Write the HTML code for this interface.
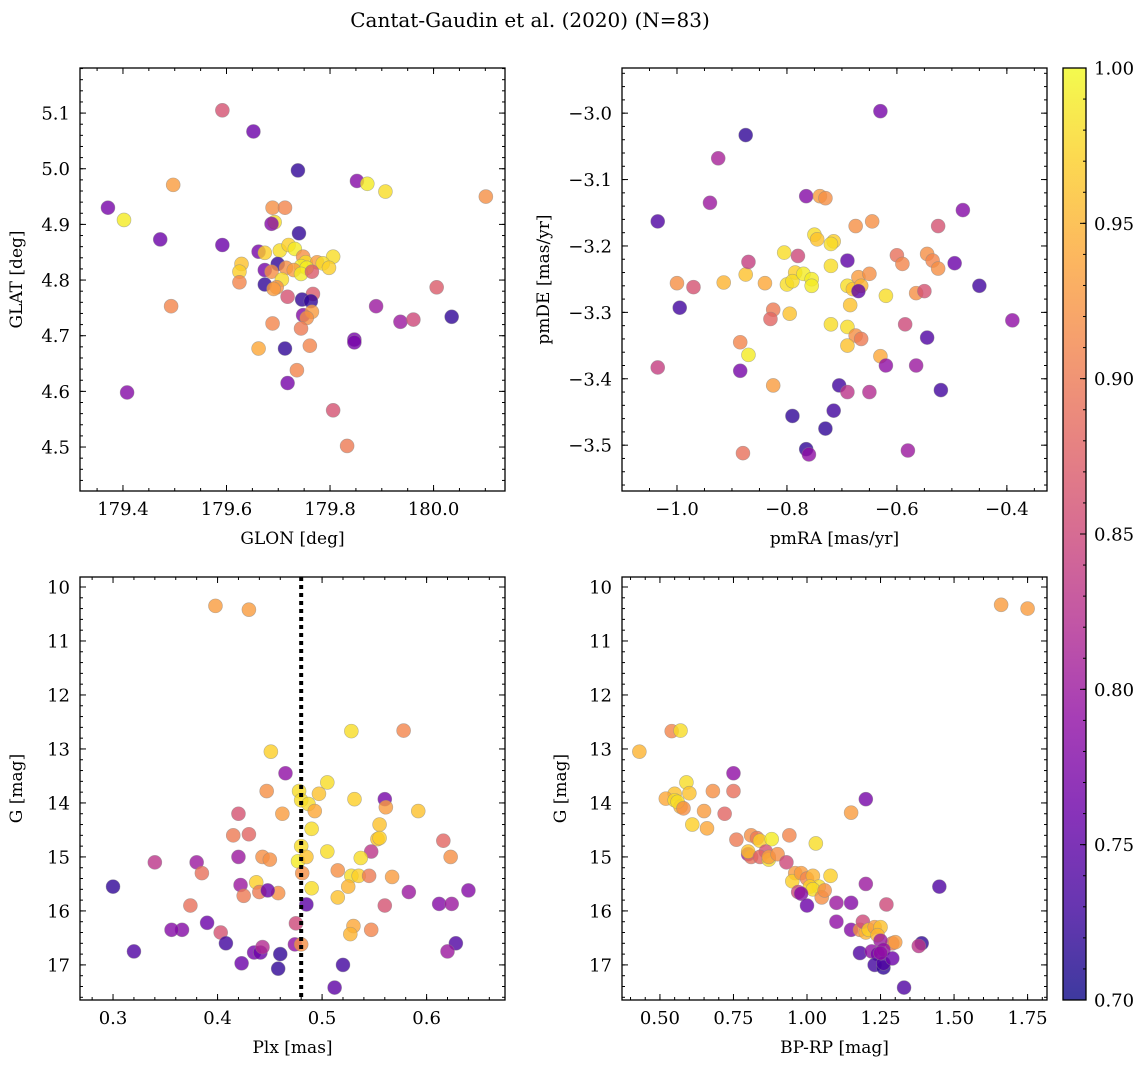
<!DOCTYPE html>
<html><head><meta charset="utf-8">
<style>
html,body{margin:0;padding:0;background:#fff;}
svg{display:block;font-family:"DejaVu Serif","Liberation Serif",serif;}
</style></head>
<body>
<svg id="fig" width="1148" height="1067" viewBox="0 0 1148 1067" xmlns="http://www.w3.org/2000/svg">
<defs>
<linearGradient id="plasma" x1="0" y1="1" x2="0" y2="0">
<stop offset="0" stop-color="#0d0887"/><stop offset="0.1" stop-color="#41049d"/><stop offset="0.2" stop-color="#6a00a8"/><stop offset="0.3" stop-color="#8f0da4"/><stop offset="0.4" stop-color="#b12a90"/><stop offset="0.5" stop-color="#cc4778"/><stop offset="0.6" stop-color="#e16462"/><stop offset="0.7" stop-color="#f2844b"/><stop offset="0.8" stop-color="#fca636"/><stop offset="0.9" stop-color="#fcce25"/><stop offset="1" stop-color="#f0f921"/>
</linearGradient>
</defs>
<text x="530" y="27" font-size="20" text-anchor="middle">Cantat-Gaudin et al. (2020) (N=83)</text>
</svg>
<script>
// Panel 1: GLON vs GLAT
const p1Glon=[179.592,179.652,179.738,179.852,179.872,179.907,179.497,180.101,179.371,179.402,179.472,179.592,179.689,179.713,179.693,179.687,179.740,179.662,179.674,179.703,179.720,179.732,179.748,179.753,179.775,179.806,179.786,179.744,179.755,179.629,179.625,179.674,179.699,179.715,179.730,179.687,179.707,179.744,179.765,179.798,179.674,179.697,179.625,179.691,179.718,179.767,179.746,179.763,179.889,179.748,179.765,179.755,179.744,179.493,180.006,179.936,179.961,180.035,179.689,179.662,179.713,179.761,179.847,179.847,179.736,179.718,179.806,179.408,179.833];
const p1Glat=[5.105,5.067,4.997,4.978,4.973,4.959,4.971,4.950,4.930,4.908,4.873,4.863,4.930,4.930,4.904,4.901,4.884,4.851,4.849,4.853,4.863,4.856,4.842,4.832,4.832,4.842,4.830,4.825,4.822,4.829,4.815,4.818,4.829,4.822,4.818,4.815,4.801,4.811,4.815,4.822,4.792,4.787,4.796,4.784,4.770,4.775,4.765,4.762,4.753,4.737,4.743,4.732,4.713,4.753,4.787,4.725,4.729,4.734,4.722,4.677,4.677,4.682,4.693,4.688,4.638,4.615,4.566,4.598,4.502];
const p1Prob=[.86,.76,.72,.78,.99,.98,.93,.92,.77,.99,.76,.76,.92,.91,.98,.78,.72,.77,.97,.98,.97,.99,.92,.98,.93,.98,.98,.99,.99,.96,.97,.77,.72,.92,.93,.92,.98,.99,.87,.97,.72,.92,.91,.93,.86,.87,.72,.72,.80,.78,.93,.92,.90,.91,.87,.80,.85,.72,.91,.94,.72,.91,.77,.77,.91,.77,.86,.78,.90];

// Panel 2: pmRA vs pmDE
const p2Pmra=[-0.63,-0.875,-0.925,-0.94,-1.035,-0.765,-0.74,-0.73,-0.75,-0.745,-0.715,-0.72,-0.675,-0.645,-0.525,-0.48,-0.805,-0.78,-0.69,-0.6,-0.59,-0.545,-0.535,-0.525,-0.495,-1.0,-0.97,-0.915,-0.875,-0.84,-0.8,-0.785,-0.79,-0.77,-0.755,-0.755,-0.72,-0.69,-0.68,-0.67,-0.665,-0.65,-0.67,-0.62,-0.565,-0.55,-0.45,-0.995,-0.87,-0.825,-0.83,-0.795,-0.685,-0.72,-0.585,-0.545,-0.39,-0.69,-0.675,-0.665,-0.69,-0.63,-0.885,-0.87,-1.035,-0.885,-0.825,-0.705,-0.69,-0.65,-0.62,-0.565,-0.52,-0.79,-0.715,-0.73,-0.765,-0.76,-0.88,-0.58];
const p2Pmde=[-2.997,-3.033,-3.068,-3.135,-3.163,-3.125,-3.125,-3.128,-3.183,-3.19,-3.193,-3.197,-3.17,-3.163,-3.17,-3.146,-3.21,-3.215,-3.222,-3.214,-3.227,-3.212,-3.222,-3.234,-3.226,-3.256,-3.262,-3.255,-3.243,-3.256,-3.258,-3.24,-3.253,-3.242,-3.25,-3.26,-3.23,-3.26,-3.265,-3.247,-3.26,-3.242,-3.268,-3.275,-3.271,-3.268,-3.26,-3.293,-3.224,-3.296,-3.31,-3.302,-3.289,-3.318,-3.318,-3.338,-3.312,-3.322,-3.335,-3.34,-3.35,-3.366,-3.345,-3.364,-3.383,-3.388,-3.41,-3.41,-3.42,-3.42,-3.38,-3.38,-3.417,-3.456,-3.448,-3.475,-3.506,-3.514,-3.512,-3.508];
const p2Prob=[.77,.72,.81,.80,.74,.78,.93,.92,.98,.96,.97,.98,.92,.92,.86,.78,.98,.85,.75,.89,.91,.92,.91,.92,.76,.92,.86,.95,.96,.94,.98,.97,.98,.99,.99,.99,.98,.98,.96,.93,.95,.92,.75,.98,.92,.86,.73,.73,.84,.90,.88,.96,.96,.98,.85,.74,.79,.98,.92,.90,.96,.94,.91,.99,.84,.77,.93,.73,.83,.82,.79,.80,.73,.72,.73,.72,.72,.79,.89,.80];

// Panel 3: Plx vs G
const p3Plx=[0.398,0.43,0.451,0.528,0.578,0.465,0.478,0.505,0.497,0.48,0.531,0.487,0.56,0.447,0.462,0.42,0.415,0.43,0.493,0.49,0.561,0.592,0.555,0.553,0.555,0.48,0.505,0.42,0.443,0.45,0.477,0.485,0.547,0.537,0.616,0.623,0.3,0.34,0.38,0.385,0.422,0.425,0.437,0.44,0.458,0.448,0.49,0.481,0.515,0.528,0.535,0.525,0.515,0.545,0.567,0.583,0.64,0.374,0.366,0.356,0.39,0.403,0.485,0.56,0.53,0.527,0.547,0.612,0.624,0.32,0.408,0.423,0.435,0.441,0.443,0.46,0.474,0.48,0.475,0.458,0.52,0.512,0.628,0.62];
const p3G=[10.35,10.42,13.05,12.67,12.66,13.45,13.78,13.62,13.83,13.95,13.93,14.02,13.93,13.78,14.2,14.2,14.6,14.58,14.15,14.48,14.08,14.15,14.4,14.67,14.65,14.8,14.9,15.0,15.0,15.05,15.08,15.0,14.9,15.02,14.7,15.0,15.55,15.1,15.1,15.3,15.52,15.72,15.47,15.65,15.67,15.62,15.58,15.3,15.25,15.35,15.35,15.55,15.75,15.35,15.37,15.65,15.62,15.9,16.35,16.35,16.22,16.4,15.88,15.9,16.28,16.43,16.35,15.87,15.87,16.75,16.6,16.97,16.77,16.77,16.67,16.8,16.62,16.62,16.23,17.07,17.0,17.42,16.6,16.75];
const p3Prob=[.93,.93,.97,.98,.91,.79,.98,.98,.96,.98,.97,.98,.77,.92,.93,.86,.90,.88,.94,.98,.93,.96,.96,.96,.97,.98,.98,.80,.92,.92,.99,.96,.83,.98,.88,.92,.72,.83,.80,.89,.80,.90,.97,.90,.92,.76,.98,.92,.92,.98,.97,.95,.96,.90,.93,.80,.78,.89,.78,.78,.76,.86,.75,.86,.94,.95,.91,.78,.80,.74,.73,.76,.77,.76,.82,.72,.79,.92,.85,.72,.73,.75,.74,.80];
const plxLine=0.48;

// Panel 4: BP-RP vs G
const p4Bprp=[1.66,1.75,0.43,0.54,0.57,0.75,0.59,0.55,0.52,0.55,0.57,0.56,0.6,0.58,0.61,0.65,0.66,0.68,0.72,0.75,1.2,1.15,0.76,0.81,0.83,0.84,0.88,0.86,0.8,0.81,0.8,0.84,0.87,0.87,0.9,0.94,1.03,0.93,0.96,0.95,0.98,1.0,1.02,1.04,1.01,1.02,1.08,0.97,0.98,1.0,1.05,1.1,1.06,1.15,1.2,1.27,1.45,1.1,1.15,1.18,1.2,1.19,1.21,1.23,1.25,1.24,1.29,1.3,1.25,1.18,1.22,1.24,1.26,1.23,1.26,1.26,1.29,1.33,1.39,1.38,1.25];
const p4G=[10.33,10.4,13.05,12.67,12.66,13.45,13.62,13.83,13.92,13.95,14.07,13.98,13.82,14.1,14.4,14.15,14.47,13.78,14.2,13.78,13.93,14.18,14.68,14.6,14.65,14.7,14.67,14.9,14.95,15.0,14.9,15.0,15.05,15.0,14.95,14.6,14.75,15.1,15.3,15.45,15.3,15.4,15.35,15.55,15.55,15.6,15.35,15.65,15.68,15.9,15.75,15.85,15.62,15.85,15.5,15.88,15.55,16.2,16.35,16.35,16.4,16.2,16.35,16.3,16.3,16.45,16.6,16.58,16.55,16.78,16.75,16.8,16.72,17.0,17.05,16.97,16.88,17.42,16.6,16.65,16.78];
const p4Prob=[.93,.93,.95,.91,.98,.79,.98,.96,.94,.98,.95,.98,.96,.92,.97,.93,.94,.92,.88,.89,.77,.93,.90,.92,.90,.97,.99,.86,.80,.89,.96,.88,.98,.93,.92,.91,.98,.85,.93,.97,.93,.91,.95,.98,.97,.98,.97,.85,.78,.76,.92,.80,.92,.78,.80,.85,.74,.79,.78,.92,.95,.85,.97,.93,.96,.95,.90,.93,.80,.74,.79,.77,.79,.73,.72,.74,.76,.74,.72,.83,.79];

const cbarTicks=[0.70,0.75,0.80,0.85,0.90,0.95,1.00];

const NS='http://www.w3.org/2000/svg';
const svg=document.getElementById('fig');
function el(tag,attrs,parent){const e=document.createElementNS(NS,tag);for(const k in attrs)e.setAttribute(k,attrs[k]);(parent||svg).appendChild(e);return e;}
const stops=[[13,8,135],[65,4,157],[106,0,168],[143,13,164],[177,42,144],[204,71,120],[225,100,98],[242,132,75],[252,166,54],[252,206,37],[240,249,33]];
function plasma(v){const t=Math.max(0,Math.min(1,(v-0.7)/0.3))*10;const i=Math.min(9,Math.floor(t));const f=t-i;const a=stops[i],b=stops[i+1];return 'rgb('+[0,1,2].map(k=>Math.round(a[k]+(b[k]-a[k])*f)).join(',')+')';}

function panel(name,box,xlim,ylim,invY,xMaj,xMin,yMaj,yMin,xdec,ydec,xlabel,ylabel,ylabX){
  const [L,T,R,B]=box;
  const sx=v=>L+(v-xlim[0])/(xlim[1]-xlim[0])*(R-L);
  const sy=invY?(v=>T+(v-ylim[0])/(ylim[1]-ylim[0])*(B-T)):(v=>B-(v-ylim[0])/(ylim[1]-ylim[0])*(B-T));
  const g=el('g',{});
  
  
  const ticks=(step,len,isX,labels,dec)=>{
    const lo=isX?Math.min(...xlim):Math.min(...ylim),hi=isX?Math.max(...xlim):Math.max(...ylim);
    let v=Math.ceil(lo/step-1e-6)*step;
    for(;v<=hi+1e-9;v+=step){
      const vv=Math.round(v/step)*step;
      if(isX){const x=sx(vv);
        el('line',{x1:x,y1:B,x2:x,y2:B-len,stroke:'#000','stroke-width':1},g);
        el('line',{x1:x,y1:T,x2:x,y2:T+len,stroke:'#000','stroke-width':1},g);
        if(labels){const t=el('text',{x:x,y:B+24,'font-size':18,'text-anchor':'middle'},g);t.textContent=vv.toFixed(dec).replace('-','\u2212');
          }
      }else{const y=sy(vv);
        el('line',{x1:L,y1:y,x2:L+len,y2:y,stroke:'#000','stroke-width':1},g);
        el('line',{x1:R,y1:y,x2:R-len,y2:y,stroke:'#000','stroke-width':1},g);
        if(labels){const t=el('text',{x:L-10,y:y+6.5,'font-size':18,'text-anchor':'end'},g);t.textContent=vv.toFixed(dec).replace('-','\u2212');
          }
      }
    }
  };
  ticks(xMin,3,true,false);ticks(xMaj,6,true,true,xdec);
  ticks(yMin,3,false,false);ticks(yMaj,6,false,true,ydec);
  const fr=el('rect',{x:L,y:T,width:R-L,height:B-T,fill:'none',stroke:'#000','stroke-width':1.3},g);
  
  const xl=el('text',{x:(L+R)/2,y:B+53,'font-size':17,'text-anchor':'middle'},g);xl.textContent=xlabel;
  
  const cy=(T+B)/2;
  const yl=el('text',{x:ylabX,y:cy,'font-size':17,'text-anchor':'middle',transform:'rotate(-90 '+ylabX+' '+cy+')'},g);yl.textContent=ylabel;
  
  return {sx,sy,g};
}
function scatter(ax,xs,ys,ps,name){
  for(let i=0;i<xs.length;i++){
    const c=el('circle',{cx:ax.sx(xs[i]),cy:ax.sy(ys[i]),r:7,fill:plasma(ps[i]),'fill-opacity':0.8,stroke:'#888','stroke-opacity':0.6,'stroke-width':0.6},ax.g);
    
    
  }
}

const a1=panel('glon-glat',[80,68,505,491],[179.317,180.138],[4.421,5.181],false,0.2,0.05,0.1,0.02,1,1,'GLON [deg]','GLAT [deg]',22);
scatter(a1,p1Glon,p1Glat,p1Prob,'glon-glat');
const a2=panel('pm',[622,68,1047,491],[-1.1,-0.327],[-3.569,-2.932],false,0.2,0.05,0.1,0.02,1,1,'pmRA [mas/yr]','pmDE [mas/yr]',549);
scatter(a2,p2Pmra,p2Pmde,p2Prob,'pm');
const a3=panel('plx-g',[80,577,505,1000],[0.2684,0.675],[9.815,17.65],true,0.1,0.02,1,0.2,1,0,'Plx [mas]','G [mag]',22);
scatter(a3,p3Plx,p3G,p3Prob,'plx-g');
const ln=el('line',{x1:a3.sx(plxLine),y1:577,x2:a3.sx(plxLine),y2:1000,stroke:'#000','stroke-width':4,'stroke-dasharray':'4,4'},a3.g);


const a4=panel('cmd',[622,577,1047,1000],[0.371,1.816],[9.815,17.65],true,0.25,0.05,1,0.2,2,0,'BP-RP [mag]','G [mag]',566);
scatter(a4,p4Bprp,p4G,p4Prob,'cmd');

// Colorbar
const cb=el('g',{});


const CL=1063,CR=1086,CT=68,CB=1000;
el('rect',{x:CL,y:CT,width:CR-CL,height:CB-CT,fill:'url(#plasma)','fill-opacity':0.8},cb);
el('rect',{x:CL,y:CT,width:CR-CL,height:CB-CT,fill:'none',stroke:'#000','stroke-width':1.3},cb);
const cs=v=>CB-(v-0.7)/0.3*(CB-CT);
for(let v=0.70;v<=1.0001;v+=0.01){const y=cs(v);el('line',{x1:CR,y1:y,x2:CR-3,y2:y,stroke:'#000','stroke-width':1},cb);}
cbarTicks.forEach(v=>{const y=cs(v);el('line',{x1:CR,y1:y,x2:CR-6,y2:y,stroke:'#000','stroke-width':1},cb);
  const t=el('text',{x:CR+8,y:y+6.5,'font-size':18},cb);t.textContent=v.toFixed(2);
  
  });
</script>
</body></html>
